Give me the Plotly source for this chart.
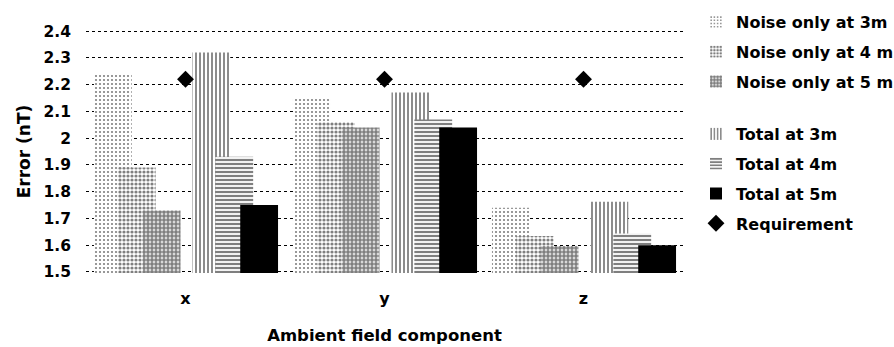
import plotly.graph_objects as go

categories = ["x", "y", "z"]
noise_3m = [2.24, 2.15, 1.74]
noise_4m = [1.89, 2.06, 1.634]
noise_5m = [1.73, 2.04, 1.597]
total_3m = [2.32, 2.17, 1.762]
total_4m = [1.93, 2.07, 1.644]
total_5m = [1.75, 2.04, 1.60]
requirement = [2.22, 2.22, 2.22]
y_ticks = [1.5, 1.6, 1.7, 1.8, 1.9, 2.0, 2.1, 2.2, 2.3, 2.4]
y_tick_text = ["1.5", "1.6", "1.7", "1.8", "1.9", "2", "2.1", "2.2", "2.3", "2.4"]

FONT = "DejaVu Sans"
W = 0.19

bar_specs = [
    ("Noise only at 3m", noise_3m, -0.46, dict(shape=".", size=4, solidity=0.22), "legend"),
    ("Noise only at 4 m", noise_4m, -0.34, dict(shape=".", size=4, solidity=0.5), "legend"),
    ("Noise only at 5 m", noise_5m, -0.215, dict(shape=".", size=4, solidity=0.75), "legend"),
    ("Total at 3m", total_3m, 0.035, dict(shape="|", size=4, solidity=0.45), "legend2"),
    ("Total at 4m", total_4m, 0.15, dict(shape="-", size=4, solidity=0.55), "legend2"),
    ("Total at 5m", total_5m, 0.275, None, "legend2"),
]

fig = go.Figure()
for i, (name, vals, off, pat, leg) in enumerate(bar_specs):
    if pat is None:
        marker = dict(color="black", line=dict(width=0))
    else:
        p = dict(pat)
        p.update(fgcolor="black", bgcolor="white", fillmode="overlay")
        marker = dict(color="white", line=dict(width=0), pattern=p)
    fig.add_trace(go.Bar(
        x=categories, y=vals, name=name, offset=off, width=W,
        marker=marker, legendgroup=f"g{i}", legend=leg,
    ))

fig.add_trace(go.Scatter(
    x=categories, y=requirement, name="Requirement", mode="markers",
    marker=dict(symbol="diamond", color="black", size=13),
    legendgroup="req", legend="legend2",
))

legend_font = dict(family=FONT, size=16, color="black", weight="bold")
fig.update_layout(
    width=894, height=347,
    margin=dict(l=86, r=211, t=30, b=74, autoexpand=False),
    paper_bgcolor="white", plot_bgcolor="white",
    barmode="overlay",
    font=dict(family=FONT, size=15, color="black"),
    showlegend=True,
    legend=dict(
        xref="container", yref="container",
        x=696 / 894, xanchor="left", y=1 - 5 / 347, yanchor="top",
        font=legend_font, tracegroupgap=6, bgcolor="rgba(0,0,0,0)",
        traceorder="grouped",
    ),
    legend2=dict(
        xref="container", yref="container",
        x=696 / 894, xanchor="left", y=1 - 117 / 347, yanchor="top",
        font=legend_font, tracegroupgap=6, bgcolor="rgba(0,0,0,0)",
        traceorder="grouped",
    ),
    xaxis=dict(
        type="category", showgrid=False, showline=False, zeroline=False,
        tickfont=dict(family=FONT, size=16, weight="bold"),
        ticklabelstandoff=14, ticks="",
        title=dict(text="<b>Ambient field component</b>", font=dict(family=FONT, size=16.5), standoff=22),
    ),
    yaxis=dict(
        range=[1.496, 2.404], tickvals=y_ticks, ticktext=y_tick_text,
        showgrid=True, gridcolor="black", griddash="dot", gridwidth=1,
        showline=False, zeroline=False, ticks="",
        tickfont=dict(family=FONT, size=15.5, weight="bold"),
        ticklabelstandoff=14,
        title=dict(text="<b>Error (nT)</b>", font=dict(family=FONT, size=17), standoff=8),
    ),
)

fig.write_html(
    "out.html",
    config={"displayModeBar": False},
    post_script="document.body.style.margin='0';document.body.style.padding='0';",
)
